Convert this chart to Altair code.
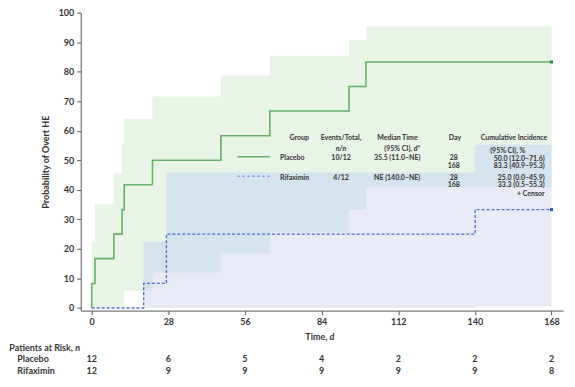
import altair as alt
import pandas as pd

FONT = "Lato"
TXT = "#333333"

# ---------------- data ----------------
# Kaplan-Meier step curves (time in days, cumulative incidence %)
pl_t = [0, 0, 1.2, 8.1, 11.1, 11.9, 22.2, 47.2, 65.1, 94.0, 100.2, 168]
pl_v = [0, 8.3, 16.7, 25.0, 33.3, 41.7, 50.0, 58.3, 66.7, 75.0, 83.3, 83.3]
rf_t = [0, 19.0, 27.3, 140.1, 168]
rf_v = [0, 8.3, 25.0, 33.3, 33.3]

# 95% CI bands
plci_t = [0, 1.2, 8.1, 11.1, 11.9, 22.2, 47.2, 65.1, 94.0, 100.2, 168]
plci_lo = [0, 0, 0, 0, 5.9, 12.0, 18.5, 25.6, 33.3, 40.9, 40.9]
plci_hi = [22.5, 35.3, 45.6, 55.5, 64.1, 71.6, 78.7, 85.4, 90.7, 95.3, 95.3]
rfci_t = [19.0, 27.3, 140.1, 168]
rfci_lo = [0, 0, 0.5, 0.5]
rfci_hi = [22.4, 45.9, 55.3, 55.3]

# end-of-follow-up markers
end_t = [168, 168]
end_v = [83.3, 33.3]
end_g = ["Placebo", "Rifaximin"]

# axis ticks
x_ticks = [0, 28, 56, 84, 112, 140, 168]
y_ticks = [0, 10, 20, 30, 40, 50, 60, 70, 80, 90, 100]

# patients at risk
risk_days = [0, 28, 56, 84, 112, 140, 168]
risk_pl = [12, 6, 5, 4, 2, 2, 2]
risk_rf = [12, 9, 9, 9, 9, 9, 8]

# in-plot table
groups = ["Placebo", "Rifaximin"]
events = ["10/12", "4/12"]
medians = ["35.5 (11.0–NE)", "NE (140.0–NE)"]
days_col = [["28", "168"], ["28", "168"]]
cum_inc = [["50.0 (12.0–71.6)", "83.3 (40.9–95.3)"],
           ["25.0 (0.0–45.9)", "33.3 (0.5–55.3)"]]

# ---------------- helpers ----------------
xs = alt.Scale(domain=[-4, 172.2], nice=False, zero=False)
ys = alt.Scale(domain=[-0.9, 100], nice=False, zero=False)

xaxis = alt.Axis(values=x_ticks, title=None, grid=False, domainColor="#555555",
                 tickColor="#555555", tickSize=4, labelFont=FONT, labelFontSize=9,
                 labelFontWeight="bold", labelColor=TXT, labelPadding=3, zindex=1,
                 labelFlush=False)
yaxis = alt.Axis(values=y_ticks, title="Probability of Overt HE", grid=False,
                 domainColor="#555555", tickColor="#555555", tickSize=4,
                 labelFont=FONT, labelFontSize=9, labelFontWeight="bold",
                 labelColor=TXT, labelPadding=3, titleFont=FONT, titleFontSize=9,
                 titleFontWeight="bold", titleColor=TXT, titlePadding=8, zindex=1)


def X(field):
    return alt.X(field, scale=xs, axis=xaxis)


def Y(field):
    return alt.Y(field, scale=ys, axis=yaxis)


def step_val(ts, vs, t):
    val = vs[0]
    for ti, vi in zip(ts, vs):
        if ti <= t:
            val = vi
    return val


# overlap of both CI bands
ov_t = sorted(set(t for t in plci_t + rfci_t if t >= rfci_t[0]))
ov_lo = [max(step_val(plci_t, plci_lo, t), step_val(rfci_t, rfci_lo, t)) for t in ov_t]
ov_hi = [min(step_val(plci_t, plci_hi, t), step_val(rfci_t, rfci_hi, t)) for t in ov_t]


def band(ts, lo, hi, color):
    df = pd.DataFrame({"t": ts, "lo": lo, "hi": hi})
    return alt.Chart(df).mark_area(interpolate="step-after", color=color).encode(
        x=X("t:Q"), y=Y("lo:Q"), y2="hi:Q",
    )


def km(ts, vs, color, dash=None, width=1.5):
    df = pd.DataFrame({"t": ts, "v": vs, "i": list(range(len(ts)))})
    kw = dict(interpolate="step-after", color=color, strokeWidth=width)
    if dash:
        kw["strokeDash"] = dash
    return alt.Chart(df).mark_line(**kw).encode(
        x=X("t:Q"), y=Y("v:Q"), order="i:Q",
    )


def text(rows, align="center", italic=False, size=7.0, weight="bold"):
    df = pd.DataFrame(rows, columns=["label", "x", "y"])
    kw = dict(align=align, baseline="middle", font=FONT, fontSize=size,
              fontWeight=weight, color=TXT)
    if italic:
        kw["fontStyle"] = "italic"
    return alt.Chart(df).mark_text(**kw).encode(
        x=X("x:Q"), y=Y("y:Q"), text="label:N",
    )


layers = [
    band(plci_t, plci_lo, plci_hi, "#e8f4e6"),
    band(rfci_t, rfci_lo, rfci_hi, "#e8ebf6"),
    band(ov_t, ov_lo, ov_hi, "#d4e3ee"),
    km(rf_t, rf_v, "#4a6fd0", dash=[3, 2], width=1.4),
    km(pl_t, pl_v, "#66b066", width=1.6),
]

end_df = pd.DataFrame({"t": end_t, "v": end_v, "g": end_g})
layers.append(
    alt.Chart(end_df).mark_square(size=9, opacity=1).encode(
        x=X("t:Q"), y=Y("v:Q"),
        color=alt.Color("g:N", scale=alt.Scale(domain=groups, range=["#2f8a3c", "#2a4fc0"]),
                        legend=None),
    )
)

# legend sample lines
leg_df = pd.DataFrame({"x1": [53.3, 53.3], "x2": [65.1, 65.1], "y": [51.2, 44.6], "g": groups})
layers.append(
    alt.Chart(leg_df[leg_df.g == "Placebo"]).mark_rule(color="#66b066", strokeWidth=1.6).encode(
        x=X("x1:Q"), x2="x2:Q", y=Y("y:Q"))
)
layers.append(
    alt.Chart(leg_df[leg_df.g == "Rifaximin"]).mark_rule(color="#6f8fd8", strokeWidth=1.3,
                                                          strokeDash=[2, 3]).encode(
        x=X("x1:Q"), x2="x2:Q", y=Y("y:Q"))
)

# table text
H1, H2, HC = 57.4, 53.8, 53.1
R1a, R1c, R1b, R2a, R2b, RC = 50.9, 50.6, 48.0, 44.1, 41.6, 38.6
layers += [
    text([["Group", 79.4, H1]], align="right"),
    text([["Events/Total,", 91.1, H1], ["Median Time", 111.7, H1], ["Day", 132.7, H1],
          ["Cumulative Incidence", 154.3, H1], ["(95% CI), %", 152.0, HC],
          [events[0], 91.1, R1a], [medians[0], 111.6, R1a],
          [days_col[0][0], 132.3, R1a], [days_col[0][1], 132.3, R1b],
          [events[1], 91.1, R2a], [medians[1], 111.6, R2a],
          [days_col[1][0], 132.3, R2a], [days_col[1][1], 132.3, R2b]]),
    text([["n/n", 91.1, H2]], italic=True),
    text([["(95% CI),", 117.0, H2]], align="right"),
    text([["d*", 117.7, H2]], align="left", italic=True),
    text([[groups[0], 68.8, R1a], [groups[1], 68.8, R2a]], align="left"),
    text([[cum_inc[0][0], 165.5, R1c], [cum_inc[0][1], 165.5, R1b],
          [cum_inc[1][0], 165.5, R2a], [cum_inc[1][1], 165.5, R2b],
          ["+ Censor", 165.5, RC]], align="right"),
]

# x-axis title and risk table
YT, YR0, YR1, YR2 = -9.9, -13.7, -17.45, -21.3
layers += [
    text([["Time,", 86.1, YT]], align="right", size=9),
    text([["d", 86.9, YT]], align="left", italic=True, size=9),
    text([["Patients at Risk,", -30.1, YR0]], align="left", size=9),
    text([["n", -6.0, YR0]], align="left", italic=True, size=9),
    text([[groups[0], -27.2, YR1], [groups[1], -27.2, YR2]], align="left", size=9),
    text([[str(v), d, YR1] for d, v in zip(risk_days, risk_pl)] +
         [[str(v), d, YR2] for d, v in zip(risk_days, risk_rf)], size=9),
]

chart = alt.layer(*layers).properties(
    width=484, height=299,
    padding={"left": 73, "top": 4, "right": 4, "bottom": 72},
    autosize=alt.AutoSizeParams(type="none"),
).configure_view(stroke=None)

chart.save("out.html", embed_options={"renderer": "svg", "actions": False})
